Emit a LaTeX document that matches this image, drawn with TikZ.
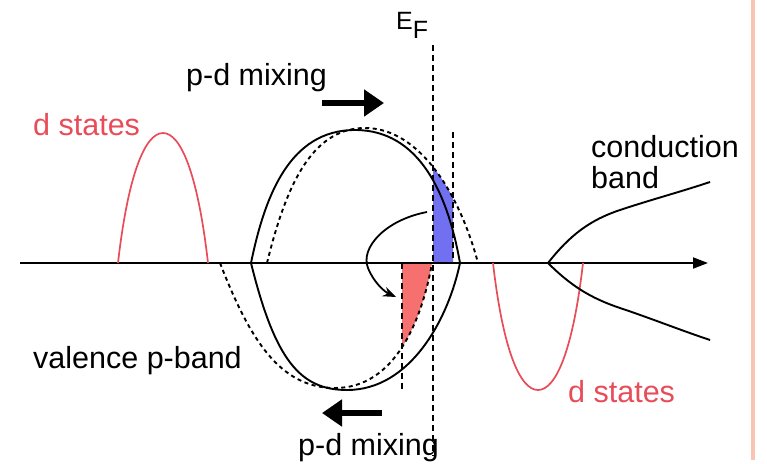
\documentclass[tikz,border=0pt]{standalone}
\usepackage{fontspec}
\setmainfont{Liberation Sans}
\usetikzlibrary{arrows.meta}
\definecolor{dred}{RGB}{232,76,88}
\definecolor{bluefill}{RGB}{112,112,240}
\definecolor{redfill}{RGB}{246,112,112}
\definecolor{pinkline}{RGB}{249,196,178}
\tikzset{
  band/.style={line width=1.9pt, black},
  dband/.style={line width=1.9pt, black, dash pattern=on 4pt off 3.5pt},
  dstate/.style={line width=1.7pt, dred},
  guide/.style={line width=1.8pt, black, dash pattern=on 6pt off 4pt},
  lbl/.style={font=\fontsize{30.5}{36}\selectfont, inner sep=0pt, anchor=base west},
  rlbl/.style={lbl, text=dred},
  bigarrow/.style={line width=6pt, -{Triangle[length=20pt,width=26pt]}},
}
\begin{document}
\begin{tikzpicture}[x=1pt,y=-1pt]
\useasboundingbox (0,0) rectangle (767,463);
% pink margin line
\draw[pinkline, line width=4pt] (753,0) -- (753,460);

% fills
\begin{scope}
  \clip (433,100) rectangle (453,263);
  \fill[bluefill] (267,263) .. controls (285,190) and (310,128) .. (365,128)
     .. controls (420,128) and (460,195) .. (478,263) -- cycle;
\end{scope}
\begin{scope}
  \clip (402,263) rectangle (432,400);
  \fill[redfill] (220,263) .. controls (250,340) and (280,388) .. (335,388)
     .. controls (395,388) and (422,320) .. (432,263) -- cycle;
\end{scope}

% axis
\coordinate (ax0) at (20,263);
\coordinate (ax1) at (708,263);
\draw[band, -{Triangle[length=15pt,width=11pt]}] (ax0) -- (ax1);

% d states
\draw[dstate] (118,263) .. controls (128,175) and (145,133) .. (163,133)
   .. controls (181,133) and (198,175) .. (208,263);
\draw[dstate] (493,263) .. controls (503,350) and (520,390) .. (538,390)
   .. controls (556,390) and (573,350) .. (583,263);

% solid valence band
\draw[band] (251,263) .. controls (265,195) and (290,130) .. (355,130)
   .. controls (420,130) and (448,195) .. (460,263);
\draw[band] (251,263) .. controls (275,360) and (300,390) .. (347,390)
   .. controls (410,390) and (448,320) .. (460,263);
% dashed shifted band
\draw[dband] (267,263) .. controls (285,190) and (310,128) .. (365,128)
   .. controls (420,128) and (460,195) .. (478,263);
\draw[dband] (220,263) .. controls (250,340) and (280,388) .. (335,388)
   .. controls (395,388) and (422,320) .. (432,263);

% conduction band
\coordinate (cb) at (548,263);
\draw[band] (cb) .. controls (570,235) and (590,220) .. (620,210)
   .. controls (650,200) and (680,192) .. (710,182);
\draw[band] (cb) .. controls (570,285) and (590,298) .. (620,308)
   .. controls (650,318) and (680,330) .. (710,340);

% guide lines
\coordinate (ef0) at (433,45);
\coordinate (ef1) at (433,456);
\draw[guide] (ef0) -- (ef1);
\coordinate (g1a) at (453,132);
\coordinate (g1b) at (453,263);
\draw[guide] (g1a) -- (g1b);
\coordinate (g2a) at (402,263);
\coordinate (g2b) at (402,392);
\draw[guide] (g2a) -- (g2b);

% curved transfer arrow
\coordinate (ca0) at (427,212);
\coordinate (ca1) at (396,297);
\draw[line width=1.8pt, -{Stealth[length=13pt,width=10pt]}] (ca0)
   .. controls (385,220) and (360,248) .. (368,268)
   .. controls (374,283) and (385,292) .. (ca1);

% p-d mixing arrows
\coordinate (ta0) at (322,103);
\coordinate (ta1) at (384,103);
\draw[bigarrow] (ta0) -- (ta1);
\coordinate (ba0) at (382,413);
\coordinate (ba1) at (322,413);
\draw[bigarrow] (ba0) -- (ba1);

% labels
\node[rlbl] (dsl) at (33,135) {d states};
\node[rlbl] (dsr) at (568,402) {d states};
\node[lbl] (vpb) at (33,368) {valence p-band};
\node[lbl] (pdt) at (186,85) {p-d mixing};
\node[lbl] (pdb) at (298,455) {p-d mixing};
\node[lbl] (cond) at (591,157) {conduction};
\node[lbl] (bnd) at (591,188) {band};
\node[inner sep=0pt, anchor=base west, font=\fontsize{25}{30}\selectfont] (ef) at (396,29)
   {E\raisebox{-9pt}{F}};
\end{tikzpicture}
\end{document}
